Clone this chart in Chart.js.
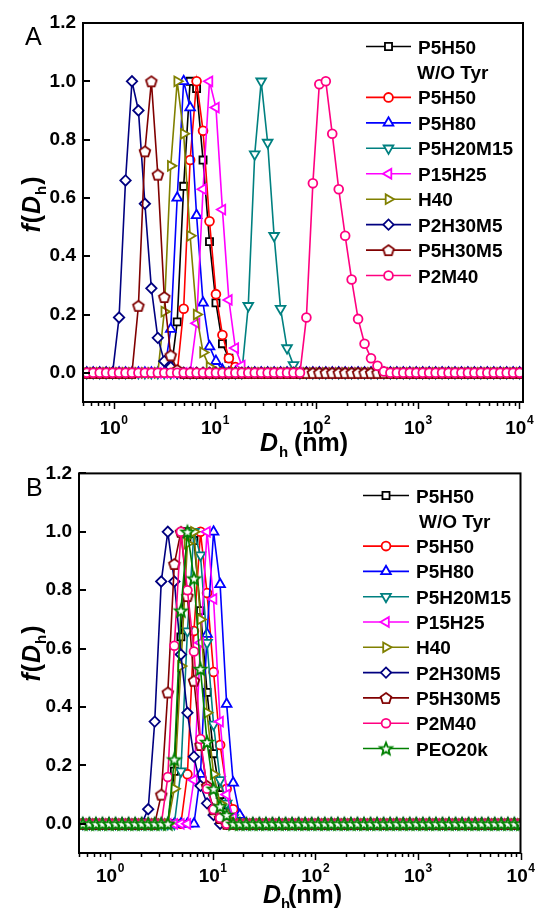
<!DOCTYPE html>
<html>
<head>
<meta charset="utf-8">
<script src="https://cdn.jsdelivr.net/npm/chart.js@4.4.0/dist/chart.umd.min.js"></script>
<style>
  html, body { margin: 0; padding: 0; background: #fff; }
  body { width: 536px; height: 908px; position: relative; overflow: hidden; }
  .panel { position: absolute; left: 0; width: 536px; }
  #wrapA { top: 0; height: 460px; }
  #wrapB { top: 455px; height: 453px; }
</style>
</head>
<body>
<div class="panel" id="wrapA"><canvas id="chartA"></canvas></div>
<div class="panel" id="wrapB"><canvas id="chartB"></canvas></div>
<script>
// Data
// common log-spaced size grid, Dh in nm
const gridNm = [0.5445, 0.6303, 0.7303, 0.8455, 0.979, 1.134, 1.313, 1.520, 1.760, 2.038,
  2.361, 2.733, 3.165, 3.665, 4.244, 4.915, 5.692, 6.590, 7.631, 8.837,
  10.23, 11.85, 13.72, 15.89, 18.40, 21.31, 24.67, 28.57, 33.08, 38.31,
  44.36, 51.37, 59.48, 68.88, 79.76, 92.36, 106.9, 123.9, 143.4, 166.1,
  192.3, 222.7, 257.9, 298.6, 345.8, 400.4, 463.7, 536.9, 621.7, 719.9,
  833.7, 965.4, 1118, 1295, 1499, 1736, 2010, 2328, 2695, 3121,
  3614, 4185, 4847, 5612, 6498, 7525, 8714, 10090];

const seriesNames = ["P5H50\nW/O Tyr", "P5H50", "P5H80", "P5H20M15", "P15H25", "H40", "P2H30M5", "P5H30M5", "P2M40", "PEO20k"];

// panel A: index in gridNm where the listed values start; everything else reads 0
const startA = [13, 14, 12, 24, 16, 11, 4, 7, 33];
const valsA = [
  [0, 0.175, 0.64, 1.0, 0.975, 0.73, 0.45, 0.24, 0.10, 0.05, 0.01, 0],
  [0, 0.22, 0.73, 1.0, 0.83, 0.52, 0.27, 0.13, 0.05, 0.02, 0],
  [0, 0.15, 0.60, 1.0, 0.91, 0.54, 0.24, 0.09, 0.04, 0.01, 0],
  [0, 0.23, 0.75, 1.0, 0.79, 0.47, 0.22, 0.085, 0.027, 0],
  [0, 0.17, 0.63, 1.0, 0.91, 0.56, 0.25, 0.085, 0.025, 0],
  [0, 0.21, 0.71, 1.0, 0.82, 0.47, 0.20, 0.07, 0.02, 0],
  [0, 0.19, 0.66, 1.0, 0.90, 0.58, 0.29, 0.12, 0.04, 0.02, 0],
  [0, 0.23, 0.76, 1.0, 0.68, 0.26, 0.06, 0.01, 0],
  [0, 0.19, 0.65, 0.99, 1.0, 0.82, 0.63, 0.47, 0.32, 0.185, 0.10, 0.05, 0.024, 0.005, 0]
];

// panel B
const startB = [13, 15, 17, 14, 16, 13, 9, 11, 12, 13];
const valsB = [
  [0, 0.18, 0.64, 1.0, 0.97, 0.73, 0.45, 0.24, 0.10, 0.04, 0.01, 0],
  [0, 0.17, 0.66, 1.0, 0.79, 0.52, 0.27, 0.12, 0.05, 0.02, 0],
  [0, 0.17, 0.65, 1.0, 0.82, 0.41, 0.14, 0.03, 0],
  [0, 0.18, 0.66, 1.0, 0.92, 0.62, 0.34, 0.15, 0.07, 0.02, 0],
  [0, 0.15, 0.62, 1.0, 0.77, 0.35, 0.10, 0.02, 0],
  [0, 0.12, 0.54, 0.96, 1.0, 0.70, 0.38, 0.17, 0.07, 0.02, 0],
  [0, 0.05, 0.35, 0.83, 1.0, 0.83, 0.58, 0.38, 0.23, 0.13, 0.07, 0.03, 0],
  [0, 0.10, 0.45, 0.89, 1.0, 0.78, 0.49, 0.27, 0.13, 0.05, 0.02, 0],
  [0, 0.16, 0.61, 1.0, 0.80, 0.59, 0.29, 0.12, 0.05, 0.02, 0],
  [0, 0.22, 0.73, 1.0, 0.84, 0.53, 0.28, 0.12, 0.06, 0.03, 0]
];

const yTickVals = [0, 0.2, 0.4, 0.6, 0.8, 1.0, 1.2];
const xDecades = [0, 1, 2, 3, 4];

// Styles
const FONT = '"Liberation Sans", Arial, Helvetica, sans-serif';
const colors = ["#000000", "#ff0000", "#0000ff", "#008080", "#ff00ff", "#808000", "#000080", "#800000", "#ff0080", "#008000"];

function shapeCanvas(kind, color){
  const c = document.createElement("canvas");
  c.width = 18; c.height = 18;
  const g = c.getContext("2d");
  g.translate(9, 9);
  g.beginPath();
  if (kind === "pentagon"){
    for (let i = 0; i < 5; i++){
      const a = -Math.PI / 2 + i * 2 * Math.PI / 5;
      g.lineTo(5.6 * Math.cos(a), 5.6 * Math.sin(a) + 0.6);
    }
  } else {
    for (let i = 0; i < 10; i++){
      const r = i % 2 ? 2.8 : 6.4;
      const a = -Math.PI / 2 + i * Math.PI / 5;
      g.lineTo(r * Math.cos(a), r * Math.sin(a) + 0.6);
    }
  }
  g.closePath();
  g.fillStyle = "#fff";
  g.fill();
  g.lineWidth = 1.8;
  g.strokeStyle = color;
  g.stroke();
  return c;
}

const markers = [
  { style: "rect", radius: 5, rotation: 0 },
  { style: "circle", radius: 4.4, rotation: 0 },
  { style: "triangle", radius: 5.6, rotation: 0 },
  { style: "triangle", radius: 5.6, rotation: 180 },
  { style: "triangle", radius: 5.6, rotation: 270 },
  { style: "triangle", radius: 5.6, rotation: 90 },
  { style: "rectRot", radius: 5.2, rotation: 0 },
  { style: shapeCanvas("pentagon", colors[7]), radius: 5.5, rotation: 0 },
  { style: "circle", radius: 4.4, rotation: 0 },
  { style: shapeCanvas("star", colors[9]), radius: 5.5, rotation: 0 }
];

function seriesPoints(start, vals){
  return gridNm.map((x, k) => ({ x, y: (k >= start && k < start + vals.length) ? vals[k - start] : 0 }));
}

function buildDatasets(starts, vals){
  return vals.map((v, i) => ({
    label: seriesNames[i],
    data: seriesPoints(starts[i], v),
    borderColor: colors[i],
    backgroundColor: "#ffffff",
    borderWidth: 1.6,
    pointStyle: markers[i].style,
    pointRadius: markers[i].radius,
    pointRotation: markers[i].rotation,
    pointBorderWidth: 1.8,
    pointBackgroundColor: "#ffffff",
    pointBorderColor: colors[i],
    tension: 0,
    order: -i
  }));
}

// Frame, ticks, titles and legend
const decorations = {
  id: "decorations",
  afterDraw(chart, args, o){
    const { ctx, chartArea: a, scales: { x, y } } = chart;
    ctx.save();
    ctx.strokeStyle = "#000";
    ctx.fillStyle = "#000";
    ctx.lineWidth = 2;
    ctx.strokeRect(a.left, a.top, a.right - a.left, a.bottom - a.top);

    const line = (x1, y1, x2, y2) => { ctx.beginPath(); ctx.moveTo(x1, y1); ctx.lineTo(x2, y2); ctx.stroke(); };

    yTickVals.forEach(v => {
      const py = Math.round(y.getPixelForValue(v));
      line(a.left, py, a.left + 7, py);
    });

    ctx.lineWidth = 1.5;
    xDecades.concat([-1]).forEach(d => {
      for (let m = 1; m <= 9; m++){
        const v = m * Math.pow(10, d);
        if (v < x.min || v > x.max * 1.001) continue;
        const px = Math.round(x.getPixelForValue(v)) + 0.5;
        line(px, a.bottom, px, a.bottom + (m === 1 ? 7 : 4));
      }
    });

    // x tick labels 10^n
    xDecades.forEach(d => {
      const px = x.getPixelForValue(Math.pow(10, d));
      ctx.font = "bold 19px " + FONT;
      const w1 = ctx.measureText("10").width;
      ctx.font = "bold 12px " + FONT;
      const w2 = ctx.measureText(String(d)).width;
      const x0 = px - (w1 + w2) / 2;
      ctx.textAlign = "left";
      ctx.textBaseline = "alphabetic";
      ctx.font = "bold 19px " + FONT;
      ctx.fillText("10", x0, a.bottom + o.tickBase);
      ctx.font = "bold 12px " + FONT;
      ctx.fillText(String(d), x0 + w1 + 0.5, a.bottom + o.tickBase - 10);
    });

    // x title: D_h (nm)
    ctx.font = "italic bold 25px " + FONT;
    ctx.fillText("D", o.xt.d, o.xt.base);
    ctx.font = "bold 15px " + FONT;
    ctx.fillText("h", o.xt.h, o.xt.base + 6);
    ctx.font = "bold 25px " + FONT;
    ctx.fillText("(nm)", o.xt.nm, o.xt.base);

    // y title: f(D_h), rotated
    ctx.save();
    ctx.translate(o.yt.x, o.yt.y);
    ctx.rotate(-Math.PI / 2);
    const parts = [
      ["f", "italic bold 25px ", 0],
      ["(", "bold 25px ", 0],
      ["D", "italic bold 25px ", 0],
      ["h", "bold 15px ", 6],
      [")", "bold 25px ", 0]
    ];
    let total = 0;
    parts.forEach(p => { ctx.font = p[1] + FONT; total += ctx.measureText(p[0]).width + 1; });
    let cx = -total / 2;
    parts.forEach(p => {
      ctx.font = p[1] + FONT;
      ctx.fillText(p[0], cx, p[2]);
      cx += ctx.measureText(p[0]).width + 1;
    });
    ctx.restore();

    // panel letter
    ctx.font = "25px " + FONT;
    ctx.fillText(o.letter, o.letterX, o.letterY);

    // legend
    const lg = o.legend;
    let row = 0;
    chart.data.datasets.forEach((ds, i) => {
      const ry = lg.y0 + row * lg.step;
      ctx.strokeStyle = colors[i];
      ctx.lineWidth = 1.6;
      line(lg.x1, ry, lg.x2, ry);
      ctx.fillStyle = "#fff";
      ctx.lineWidth = 1.8;
      Chart.helpers.drawPoint(ctx, {
        pointStyle: markers[i].style,
        rotation: markers[i].rotation,
        radius: markers[i].radius,
        borderWidth: 1.8
      }, (lg.x1 + lg.x2) / 2, ry);
      const lines = ds.label.split("\n");
      ctx.fillStyle = "#000";
      ctx.font = "bold 19px " + FONT;
      ctx.fillText(lines[0], lg.tx, ry + 7);
      row++;
      for (let j = 1; j < lines.length; j++){
        ctx.fillText(lines[j], lg.tx2, lg.y0 + row * lg.step + 7);
        row++;
      }
    });
    ctx.restore();
  }
};

function makeChart(id, datasets, xmax, yw, xh, padTop, padRight, deco){
  return new Chart(document.getElementById(id), {
    type: "line",
    data: { datasets },
    options: {
      responsive: true,
      maintainAspectRatio: false,
      animation: false,
      layout: { padding: { top: padTop, right: padRight, left: 0, bottom: 0 } },
      plugins: { legend: { display: false }, tooltip: { enabled: false }, decorations: deco },
      scales: {
        x: {
          type: "logarithmic",
          min: 0.5,
          max: xmax,
          grid: { display: false, drawTicks: false },
          border: { display: false },
          ticks: { display: false },
          afterFit: s => { s.height = xh; }
        },
        y: {
          type: "linear",
          min: -0.1,
          max: 1.2,
          grid: { display: false, drawTicks: false },
          border: { display: false },
          afterBuildTicks: s => { s.ticks = yTickVals.map(v => ({ value: v })); },
          ticks: {
            padding: 7,
            color: "#000",
            font: { family: FONT, size: 19, weight: "bold" },
            callback: v => Number(v).toFixed(1)
          },
          afterFit: s => { s.width = yw; }
        }
      }
    },
    plugins: [decorations]
  });
}

makeChart("chartA", buildDatasets(startA, valsA), 10900, 83, 58, 23, 13, {
  tickBase: 31.5,
  xt: { d: 260, h: 279, nm: 294, base: 451 },
  yt: { x: 40, y: 204 },
  letter: "A", letterX: 25, letterY: 45,
  legend: { y0: 46.5, step: 25.45, x1: 366, x2: 411, tx: 418, tx2: 417 }
});

makeChart("chartB", buildDatasets(startB, valsB), 10000, 79, 55, 18, 15.5, {
  tickBase: 29,
  xt: { d: 263, h: 281, nm: 288, base: 448 },
  yt: { x: 40, y: 198 },
  letter: "B", letterX: 26, letterY: 41,
  legend: { y0: 40.5, step: 25.3, x1: 363, x2: 409, tx: 416, tx2: 419 }
});
</script>
</body>
</html>
